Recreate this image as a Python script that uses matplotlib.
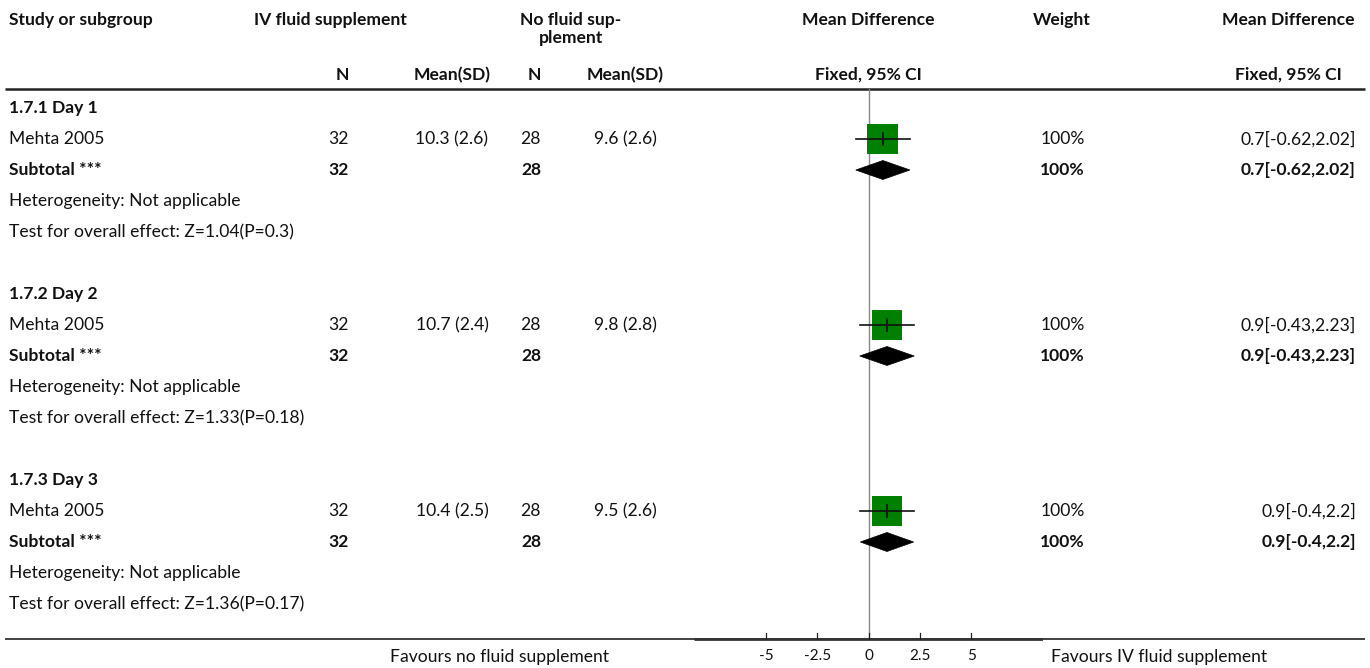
import matplotlib
matplotlib.use("Agg")
import matplotlib.pyplot as plt
from matplotlib.patches import Rectangle, Polygon

# ---------------- data ----------------
subgroups = ["1.7.1 Day 1", "1.7.2 Day 2", "1.7.3 Day 3"]
studies = ["Mehta 2005", "Mehta 2005", "Mehta 2005"]
iv_n = [32, 32, 32]
iv_mean = [10.3, 10.7, 10.4]
iv_sd = [2.6, 2.4, 2.5]
no_n = [28, 28, 28]
no_mean = [9.6, 9.8, 9.5]
no_sd = [2.6, 2.8, 2.6]
md = [0.7, 0.9, 0.9]
ci_lo = [-0.62, -0.43, -0.4]
ci_hi = [2.02, 2.23, 2.2]
weights = [100, 100, 100]
z_vals = ["1.04", "1.33", "1.36"]
p_vals = ["0.3", "0.18", "0.17"]
ticks = [-5, -2.5, 0, 2.5, 5]
tick_labels = ["-5", "-2.5", "0", "2.5", "5"]
xlim = (-8.5, 8.5)

FONT = ["Lato", "DejaVu Sans"]
plt.rcParams["font.family"] = FONT
FS = 12.6

W, H = 1370, 668
fig = plt.figure(figsize=(W / 100, H / 100), dpi=100)
tab = fig.add_axes([0, 0, 1, 1])
tab.set_xlim(0, W)
tab.set_ylim(H, 0)
tab.axis("off")

fx0, fx1 = 694, 1043
fa = fig.add_axes([fx0 / W, 0, (fx1 - fx0) / W, 1])
fa.set_xlim(*xlim)
fa.set_ylim(H, 0)
fa.axis("off")
fa.patch.set_alpha(0)


def t(x, y, s, ha="left", bold=False, size=FS):
    tab.text(x, y, s, ha=ha, va="center", fontsize=size,
             fontweight="bold" if bold else "normal", color="#111111")


# header
t(9, 20, "Study or subgroup", bold=True)
t(330, 20, "IV fluid supplement", ha="center", bold=True)
t(571, 20, "No fluid sup-", ha="center", bold=True)
t(571, 38, "plement", ha="center", bold=True)
t(868, 20, "Mean Difference", ha="center", bold=True)
t(1062, 20, "Weight", ha="center", bold=True)
t(1288, 20, "Mean Difference", ha="center", bold=True)
t(349, 75, "N", ha="right", bold=True)
t(452, 75, "Mean(SD)", ha="center", bold=True)
t(541, 75, "N", ha="right", bold=True)
t(625, 75, "Mean(SD)", ha="center", bold=True)
t(868, 75, "Fixed, 95% CI", ha="center", bold=True)
t(1288, 75, "Fixed, 95% CI", ha="center", bold=True)

tab.plot([5, 1365], [89, 89], color="#222222", lw=1.8, solid_capstyle="butt")

row0 = 108
step = 31
for g in range(len(subgroups)):
    base = row0 + g * 6 * step
    y_head, y_st, y_sub, y_het, y_test = [base + k * step for k in range(5)]
    t(9, y_head, subgroups[g], bold=True)
    t(9, y_st, studies[g])
    t(349, y_st, f"{iv_n[g]}", ha="right")
    t(452, y_st, f"{iv_mean[g]} ({iv_sd[g]})", ha="center")
    t(541, y_st, f"{no_n[g]}", ha="right")
    t(625, y_st, f"{no_mean[g]} ({no_sd[g]})", ha="center")
    t(1085, y_st, f"{weights[g]}%", ha="right")
    ci_txt = f"{md[g]:g}[{ci_lo[g]:g},{ci_hi[g]:g}]"
    t(1356, y_st, ci_txt, ha="right")
    t(9, y_sub, "Subtotal ***", bold=True)
    t(349, y_sub, f"{iv_n[g]}", ha="right", bold=True)
    t(541, y_sub, f"{no_n[g]}", ha="right", bold=True)
    t(1085, y_sub, f"{weights[g]}%", ha="right", bold=True)
    t(1356, y_sub, ci_txt, ha="right", bold=True)
    t(9, y_het, "Heterogeneity: Not applicable")
    t(9, y_test, f"Test for overall effect: Z={z_vals[g]}(P={p_vals[g]})")

    # study marker
    half = 0.75 * (weights[g] / 100)
    fa.add_patch(Rectangle((md[g] - half, y_st - 15), 2 * half, 30,
                           facecolor="#008000", edgecolor="none", zorder=3))
    fa.plot([ci_lo[g], ci_hi[g]], [y_st, y_st], color="#111111", lw=1.2, zorder=4)
    fa.plot([md[g], md[g]], [y_st - 6, y_st + 6], color="#111111", lw=1.2, zorder=4)
    # diamond
    fa.add_patch(Polygon([(ci_lo[g], y_sub), (md[g], y_sub - 9.5),
                          (ci_hi[g], y_sub), (md[g], y_sub + 9.5)],
                         closed=True, facecolor="black", edgecolor="black",
                         lw=0.5, zorder=3))

# null line
fa.plot([0, 0], [89, 639], color="#888888", lw=1.0, zorder=1)

# bottom line and axis
tab.plot([5, 1365], [639, 639], color="#222222", lw=1.2, solid_capstyle="butt")
fa.plot(list(xlim), [639, 639], color="#333333", lw=2.0, solid_capstyle="butt")
for tk, tl in zip(ticks, tick_labels):
    fa.plot([tk, tk], [639, 633], color="#222222", lw=0.9)
    fa.text(tk, 656, tl, ha="center", va="center", fontsize=11, color="#111111")

t(500, 657, "Favours no fluid supplement", ha="center")
t(1159, 657, "Favours IV fluid supplement", ha="center")

fig.savefig("out.png", dpi=100)
